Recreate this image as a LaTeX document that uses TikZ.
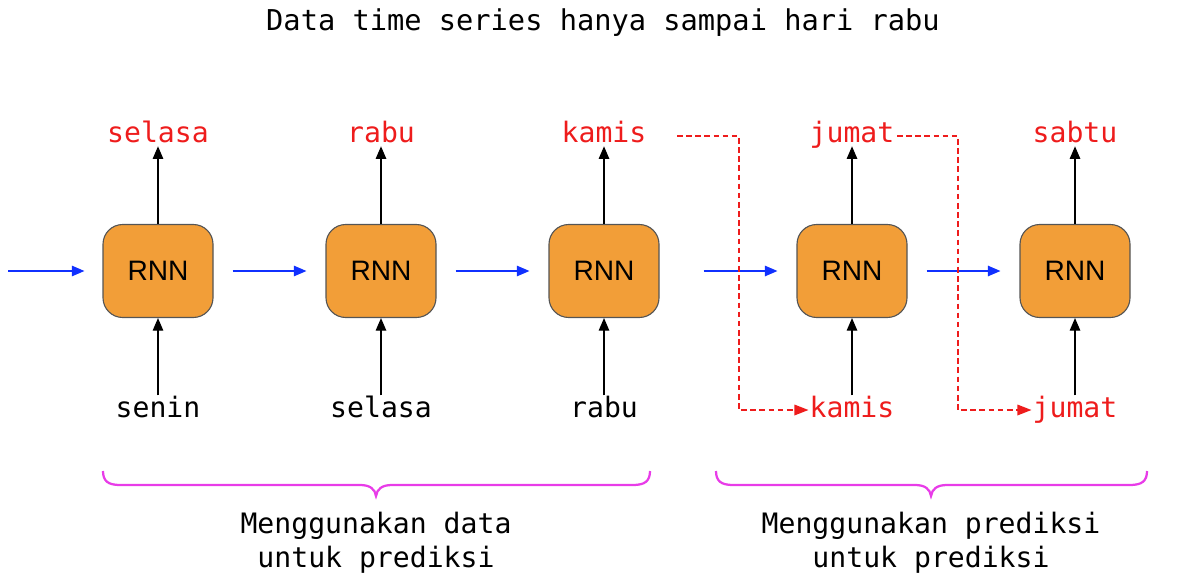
\documentclass[tikz,border=0pt]{standalone}
\usepackage{fontspec}
\setmainfont{Liberation Sans}
\setmonofont{DejaVu Sans Mono}
\usetikzlibrary{arrows.meta}
\definecolor{rnnfill}{HTML}{F29E38}
\definecolor{rnnedge}{HTML}{555555}
\definecolor{myred}{HTML}{EE1C1C}
\definecolor{myblue}{HTML}{1030FF}
\definecolor{mymag}{HTML}{E83CE8}
\begin{document}
\begin{tikzpicture}[x=0.025cm,y=-0.025cm,
  rnn/.style={draw=rnnedge,line width=0.8pt,fill=rnnfill,rounded corners=14pt,minimum width=110*0.025cm,minimum height=93*0.025cm,inner sep=0,font=\fontsize{20}{24}\selectfont},
  lab/.style={inner sep=0,font=\ttfamily\fontsize{20}{24}\selectfont,text height=0.75em,text depth=0.25em},
  redlab/.style={lab,text=myred},
  up/.style={-{Triangle[length=9pt,width=7.5pt]},line width=0.9pt,black},
  blu/.style={-{Triangle[length=9pt,width=7.5pt]},line width=0.9pt,myblue},
  dsh/.style={dashed,dash pattern=on 4pt off 2.5pt,line width=0.8pt,myred},
  brace/.style={mymag,line width=1.6pt},
  captext/.style={inner sep=0,font=\ttfamily\fontsize{20}{24}\selectfont,align=center}]
\useasboundingbox (0,0) rectangle (1200,583);
\node[inner sep=0,font=\ttfamily\fontsize{20.4}{24}\selectfont] (title) at (603,23) {Data time series hanya sampai hari rabu};
% boxes
\foreach \i/\x in {1/158,2/381,3/604,4/852,5/1075}{
  \node[rnn] (b\i) at (\x,271) {RNN};
}
% top labels
\node[redlab] (o1) at (158,139) {selasa};
\node[redlab] (o2) at (381,139) {rabu};
\node[redlab] (o3) at (604,139) {kamis};
\node[redlab] (o4) at (852,139) {jumat};
\node[redlab] (o5) at (1075,139) {sabtu};
% bottom labels
\node[lab] (i1) at (158,414) {senin};
\node[lab] (i2) at (381,414) {selasa};
\node[lab] (i3) at (604,414) {rabu};
\node[redlab] (i4) at (852,414) {kamis};
\node[redlab] (i5) at (1075,414) {jumat};
\foreach \i in {1,...,5}{
  \draw[up] (b\i.north) -- (o\i.south);
  \draw[up,shorten <=8pt] (i\i.north) -- (b\i.south);
}
% blue arrows
\coordinate (s0) at (8,271);
\draw[blu] (s0) -- ([xshift=-18*0.025cm]b1.west);
\draw[blu] ([xshift=19*0.025cm]b1.east) -- ([xshift=-19*0.025cm]b2.west);
\draw[blu] ([xshift=19*0.025cm]b2.east) -- ([xshift=-19*0.025cm]b3.west);
\draw[blu] ([xshift=44*0.025cm]b3.east) -- ([xshift=-19*0.025cm]b4.west);
\draw[blu] ([xshift=19*0.025cm]b4.east) -- ([xshift=-19*0.025cm]b5.west);
% red dashed feedback
\coordinate (d1a) at (677,136);
\coordinate (d1b) at (739,136);
\coordinate (d1c) at (739,410);
\coordinate (d2a) at (897,136);
\coordinate (d2b) at (958,136);
\coordinate (d2c) at (958,410);
\draw[dsh] (d1a) -- (d1b) -- (d1c) -- ([xshift=-3*0.025cm]i4.west |- d1c);
\draw[dsh] (d2a) -- (d2b) -- (d2c) -- ([xshift=-3*0.025cm]i5.west |- d2c);
\fill[myred] ([xshift=-1*0.025cm]i4.west |- d1c) -- ++(-14,-5.5) -- ++(0,11) -- cycle;
\fill[myred] ([xshift=-1*0.025cm]i5.west |- d2c) -- ++(-14,-5.5) -- ++(0,11) -- cycle;
% braces
\draw[brace] (103,471) .. controls (103,481) and (108,485) .. (120,485) -- (360,485)
  .. controls (370,485) and (375,489) .. (376,496)
  .. controls (377,489) and (382,485) .. (392,485) -- (633,485)
  .. controls (645,485) and (650,481) .. (650,471);
\draw[brace] (716,471) .. controls (716,481) and (721,485) .. (733,485) -- (915,485)
  .. controls (925,485) and (930,489) .. (931,496)
  .. controls (932,489) and (937,485) .. (947,485) -- (1130,485)
  .. controls (1142,485) and (1147,481) .. (1147,471);
\node[captext] (c1) at (376,543) {Menggunakan data\\untuk prediksi};
\node[captext] (c2) at (931,543) {Menggunakan prediksi\\untuk prediksi};
\end{tikzpicture}
\end{document}
